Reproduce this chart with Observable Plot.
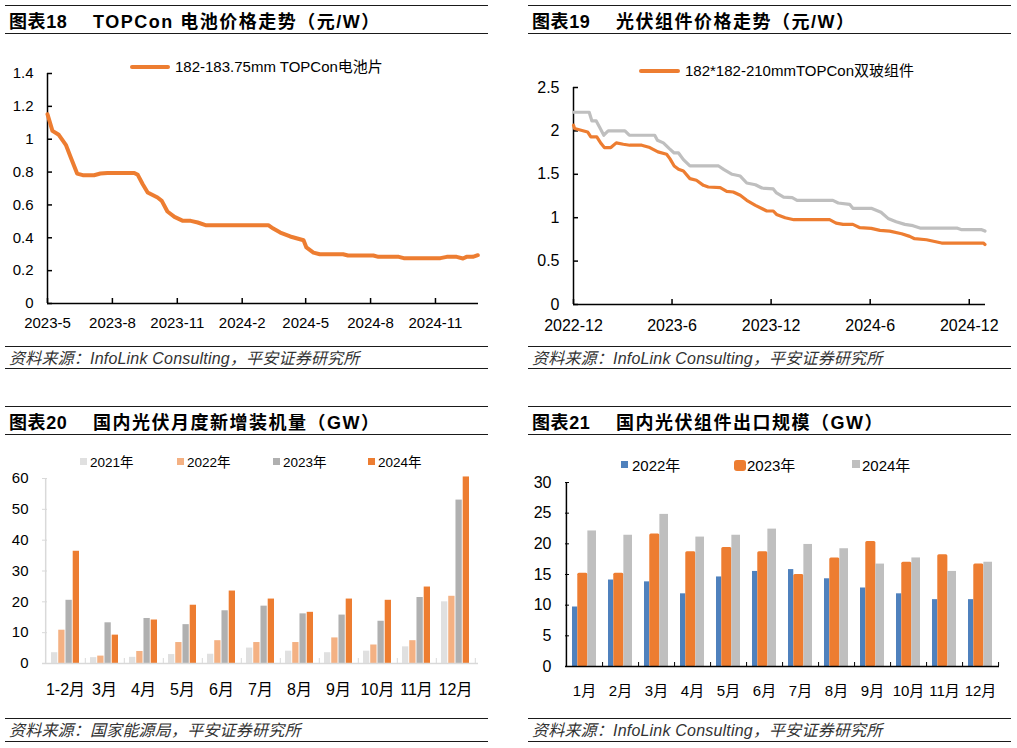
<!DOCTYPE html>
<html><head><meta charset="utf-8">
<script src="https://cdn.jsdelivr.net/npm/d3@7"></script>
<script src="https://cdn.jsdelivr.net/npm/@observablehq/plot@0.6"></script>
<style>
body{margin:0;background:#fff;}
#page{position:relative;width:1017px;height:748px;overflow:hidden;background:#fff;font-family:"Liberation Sans","Noto Sans CJK SC",sans-serif;color:#000;}
.abs{position:absolute;}
.rule{position:absolute;height:0;border-top:1.5px solid #1a1a1a;}
.title{position:absolute;font-weight:bold;font-size:18px;line-height:22px;white-space:nowrap;letter-spacing:0.6px;}
.title.t2{letter-spacing:1.5px;}
.src{position:absolute;font-style:italic;font-size:16px;line-height:20px;color:#333;white-space:nowrap;letter-spacing:0.2px;}
.leg{position:absolute;font-size:15px;line-height:18px;white-space:nowrap;}
</style></head><body><div id="page"></div>
<script>
// ---------- Chart 18: TOPCon cell price ----------
const cellDates = ["2023-05-01","2023-05-08","2023-05-17","2023-05-27","2023-06-03","2023-06-12","2023-06-20","2023-07-06","2023-07-15","2023-07-25","2023-09-01","2023-09-06","2023-09-13","2023-09-20","2023-10-04","2023-10-10","2023-10-18","2023-10-28","2023-11-09","2023-11-20","2023-11-30","2023-12-11","2024-03-09","2024-03-16","2024-03-26","2024-04-09","2024-04-28","2024-05-02","2024-05-12","2024-05-21","2024-06-23","2024-06-30","2024-08-05","2024-08-12","2024-09-10","2024-09-17","2024-11-08","2024-11-17","2024-12-01","2024-12-10","2024-12-15","2024-12-24","2024-12-31"];
const cellPrices = [1.152,1.051,1.027,0.966,0.889,0.791,0.781,0.781,0.791,0.795,0.795,0.783,0.726,0.676,0.645,0.625,0.56,0.527,0.503,0.503,0.493,0.477,0.477,0.456,0.432,0.408,0.385,0.341,0.310,0.300,0.300,0.292,0.292,0.284,0.284,0.276,0.276,0.284,0.284,0.274,0.284,0.284,0.294];
const cellDomain = ["2023-05-01","2025-01-01"];
const cellXTicks = ["2023-05-01","2023-08-01","2023-11-01","2024-02-01","2024-05-01","2024-08-01","2024-11-01"];
const cellYTicks = [0,0.2,0.4,0.6,0.8,1,1.2,1.4];
const cellLegend = "182-183.75mm TOPCon电池片";

// ---------- Chart 19: module price ----------
const modOrangeDates = ["2022-12-01","2022-12-03","2022-12-27","2023-01-02","2023-01-13","2023-01-21","2023-01-27","2023-02-08","2023-02-18","2023-03-03","2023-03-15","2023-04-06","2023-04-21","2023-05-06","2023-05-22","2023-05-28","2023-06-05","2023-06-13","2023-06-22","2023-07-04","2023-07-16","2023-07-29","2023-08-07","2023-08-29","2023-09-10","2023-09-22","2023-10-05","2023-10-17","2023-11-02","2023-11-23","2023-12-05","2023-12-11","2023-12-27","2024-01-12","2024-03-18","2024-03-30","2024-04-12","2024-04-30","2024-05-13","2024-06-03","2024-06-19","2024-07-07","2024-07-29","2024-08-13","2024-08-22","2024-09-13","2024-10-11","2024-12-27","2024-12-30"];
const modOrange = [2.065,2.027,1.988,1.931,1.931,1.854,1.808,1.808,1.862,1.846,1.835,1.835,1.808,1.758,1.731,1.681,1.596,1.558,1.538,1.45,1.431,1.373,1.354,1.346,1.304,1.296,1.258,1.2,1.142,1.077,1.077,1.038,1.0,0.977,0.977,0.938,0.923,0.923,0.885,0.877,0.854,0.846,0.815,0.785,0.758,0.746,0.708,0.708,0.692];
const modGrayDates = ["2022-12-01","2022-12-30","2023-01-04","2023-01-12","2023-01-18","2023-01-26","2023-02-03","2023-03-06","2023-03-14","2023-04-30","2023-05-05","2023-05-16","2023-05-27","2023-06-05","2023-06-13","2023-06-22","2023-07-04","2023-08-26","2023-09-05","2023-09-20","2023-10-05","2023-10-17","2023-11-02","2023-11-14","2023-12-05","2023-12-11","2023-12-24","2024-01-09","2024-01-18","2024-03-24","2024-04-03","2024-04-24","2024-04-30","2024-06-03","2024-06-21","2024-07-04","2024-07-19","2024-08-04","2024-08-19","2024-09-01","2024-11-08","2024-11-17","2024-12-24","2024-12-30"];
const modGray = [2.215,2.215,2.115,2.115,2.046,1.95,2.0,2.0,1.95,1.95,1.892,1.862,1.796,1.746,1.746,1.669,1.596,1.596,1.554,1.5,1.48,1.4,1.38,1.342,1.331,1.285,1.238,1.231,1.2,1.2,1.169,1.154,1.108,1.108,1.062,0.992,0.954,0.923,0.908,0.881,0.881,0.862,0.862,0.846];
const modDomain = ["2022-12-01","2024-12-31"];
const modXTicks = ["2022-12-01","2023-06-01","2023-12-01","2024-06-01","2024-12-01"];
const modYTicks = [0,0.5,1,1.5,2,2.5];
const modLegend = "182*182-210mmTOPCon双玻组件";

// ---------- Chart 20: monthly installations ----------
const instMonths = ["1-2月","3月","4月","5月","6月","7月","8月","9月","10月","11月","12月"];
const instYears = ["2021年","2022年","2023年","2024年"];
const inst2021 = [3.5,1.9,2.0,2.9,3.0,5.0,4.0,3.5,4.0,5.4,20.0];
const inst2022 = [10.8,2.4,3.9,6.8,7.4,6.8,6.8,8.3,6.0,7.4,21.8];
const inst2023 = [20.5,13.2,14.6,12.6,17.1,18.6,16.1,15.7,13.7,21.4,53.0];
const inst2024 = [36.4,9.2,14.1,18.9,23.5,20.9,16.6,20.9,20.5,24.8,60.5];
const instYTicks = [0,10,20,30,40,50,60];

// ---------- Chart 21: module exports ----------
const expMonths = ["1月","2月","3月","4月","5月","6月","7月","8月","9月","10月","11月","12月"];
const expYears = ["2022年","2023年","2024年"];
const exp2022 = [9.7,14.1,13.8,11.85,14.6,15.5,15.8,14.3,12.8,11.85,10.9,10.9];
const exp2023 = [15.2,15.2,21.6,18.7,19.4,18.7,15.0,17.7,20.4,17.0,18.2,16.7];
const exp2024 = [22.1,21.4,24.8,21.1,21.4,22.4,19.9,19.2,16.7,17.7,15.5,17.0];
const expYTicks = [0,5,10,15,20,25,30];

// ---------- helpers ----------
const page = document.getElementById("page");
function el(cls, css, text){const e=document.createElement("div");e.className=cls;Object.assign(e.style,css);if(text!=null)e.textContent=text;page.appendChild(e);return e;}
function hrule(x1,x2,y){el("rule",{left:x1+"px",width:(x2-x1)+"px",top:(y-0.75)+"px"});}
function panel(p){
  hrule(p.x1,p.x2,p.y[0]); hrule(p.x1,p.x2,p.y[2]); hrule(p.x1,p.x2,p.y[3]); hrule(p.x1,p.x2,p.y[5]);
  el("title",{left:(p.x1+4)+"px",top:(p.y[1]-11)+"px"},p.num);
  el("title t2",{left:(p.x1+88)+"px",top:(p.y[1]-11)+"px"},p.title);
  el("src",{left:(p.x1+4)+"px",top:(p.y[4]-10)+"px"},p.src);
}
function place(node,left,top){const w=document.createElement("div");w.className="abs";w.style.left=left+"px";w.style.top=top+"px";w.appendChild(node);page.appendChild(w);}
const FONT='"Liberation Sans","Noto Sans CJK SC",sans-serif';
const fmtMonth = d => `${d.getUTCFullYear()}-${d.getUTCMonth()+1}`;
const fmtNum = d => String(Math.round(d*10)/10);
const blank = () => "";

panel({x1:5,x2:488,y:[6,22,34,347,359,369],num:"图表18",title:"TOPCon 电池价格走势（元/W）",src:"资料来源：InfoLink Consulting，平安证券研究所"});
panel({x1:528,x2:1011,y:[6,22,34,347,359,369],num:"图表19",title:"光伏组件价格走势（元/W）",src:"资料来源：InfoLink Consulting，平安证券研究所"});
panel({x1:5,x2:488,y:[407,423,435,719,731,742],num:"图表20",title:"国内光伏月度新增装机量（GW）",src:"资料来源：国家能源局，平安证券研究所"});
panel({x1:528,x2:1011,y:[407,423,435,719,731,742],num:"图表21",title:"国内光伏组件出口规模（GW）",src:"资料来源：InfoLink Consulting，平安证券研究所"});

// ---------- Chart 18 ----------
{
  const data = cellDates.map((d,i)=>({date:new Date(d),value:cellPrices[i]}));
  const xt = cellXTicks.map(d=>new Date(d));
  const x0 = new Date(cellDomain[0]);
  const svg = Plot.plot({
    width:500,height:300,marginLeft:47,marginRight:22,marginTop:33,marginBottom:37,
    style:{fontFamily:FONT,fontSize:"15px",color:"#000",background:"transparent",overflow:"visible"},
    x:{type:"utc",domain:[x0,new Date(cellDomain[1])],axis:null},
    y:{domain:[0,1.4],axis:null},
    marks:[
      Plot.ruleY([0],{stroke:"#000",strokeWidth:1.5}),
      Plot.ruleX([x0],{stroke:"#000",strokeWidth:1.5}),
      Plot.axisY(cellYTicks,{tickSize:5,dx:5,tickFormat:blank,stroke:"#000",strokeWidth:1.5,label:null}),
      Plot.axisY(cellYTicks,{tickSize:0,tickPadding:14,tickFormat:fmtNum,label:null}),
      Plot.axisX(xt,{tickSize:5,dy:-5,tickFormat:blank,stroke:"#000",strokeWidth:1.5,label:null}),
      Plot.axisX(xt,{tickSize:0,tickPadding:14,tickFormat:fmtMonth,label:null}),
      Plot.line(data,{x:"date",y:"value",stroke:"#ED7D31",strokeWidth:4,strokeLinejoin:"round",strokeLinecap:"round"})
    ]
  });
  place(svg,0,40);
  el("abs",{left:"130px",top:"65px",width:"40px",height:"4px",background:"#ED7D31",borderRadius:"2px"});
  el("leg",{left:"175px",top:"58px"},cellLegend);
}

// ---------- Chart 19 ----------
{
  const orange = modOrangeDates.map((d,i)=>({date:new Date(d),value:modOrange[i]}));
  const gray = modGrayDates.map((d,i)=>({date:new Date(d),value:modGray[i]}));
  const xt = modXTicks.map(d=>new Date(d));
  const x0 = new Date(modDomain[0]);
  const svg = Plot.plot({
    width:507,height:300,marginLeft:63,marginRight:32,marginTop:47,marginBottom:36,
    style:{fontFamily:FONT,fontSize:"16px",color:"#000",background:"transparent",overflow:"visible"},
    x:{type:"utc",domain:[x0,new Date(modDomain[1])],axis:null},
    y:{domain:[0,2.5],axis:null},
    marks:[
      Plot.ruleY([0],{stroke:"#000",strokeWidth:1.5}),
      Plot.ruleX([x0],{stroke:"#000",strokeWidth:1.5}),
      Plot.axisY(modYTicks,{tickSize:5,dx:5,tickFormat:blank,stroke:"#000",strokeWidth:1.5,label:null}),
      Plot.axisY(modYTicks,{tickSize:0,tickPadding:14,tickFormat:fmtNum,label:null}),
      Plot.axisX(xt,{tickSize:5,dy:-5,tickFormat:blank,stroke:"#000",strokeWidth:1.5,label:null}),
      Plot.axisX(xt,{tickSize:0,tickPadding:15,tickFormat:fmtMonth,label:null}),
      Plot.line(gray,{x:"date",y:"value",stroke:"#BFBFBF",strokeWidth:3.2,strokeLinejoin:"round"}),
      Plot.line(orange,{x:"date",y:"value",stroke:"#ED7D31",strokeWidth:3.2,strokeLinejoin:"round"})
    ]
  });
  place(svg,510,40);
  el("abs",{left:"639px",top:"69px",width:"41px",height:"4px",background:"#ED7D31",borderRadius:"2px"});
  el("leg",{left:"685px",top:"62px"},modLegend);
}

// ---------- Chart 20 ----------
{
  const W=500, ML=42, MR=22, pad=0.27;
  const step=(W-ML-MR)/instMonths.length, band=step*(1-pad), slot=band/instYears.length;
  const series=[inst2021,inst2022,inst2023,inst2024];
  const colors=["#E0E0E0","#F4B183","#B0B0B0","#ED7D31"];
  const bars = series.map((vals,k)=>Plot.barY(instMonths,{x:d=>d,y:(d,i)=>vals[i],fill:colors[k],insetLeft:k*slot,insetRight:(series.length-1-k)*slot}));
  const svg = Plot.plot({
    width:W,height:275,marginLeft:ML,marginRight:MR,marginTop:38,marginBottom:52,
    style:{fontFamily:FONT,fontSize:"15px",color:"#000",background:"transparent",overflow:"visible"},
    x:{type:"band",domain:instMonths,paddingInner:pad,paddingOuter:pad/2,axis:null},
    y:{domain:[0,60],axis:null},
    marks:[
      ...bars,
      Plot.ruleY([0],{stroke:"#D9D9D9",strokeWidth:1.5}),
      Plot.ruleX([instMonths[0]],{dx:-step/2,stroke:"#D9D9D9",strokeWidth:1.5}),
      Plot.axisY(instYTicks,{tickSize:5,dx:5,tickFormat:blank,stroke:"#D9D9D9",label:null}),
      Plot.axisY(instYTicks,{tickSize:0,tickPadding:14,tickFormat:d=>String(d),label:null}),
      Plot.axisX(instMonths,{tickSize:5,dy:-5,dx:step/2,tickFormat:blank,stroke:"#D9D9D9",label:null}),
      Plot.axisX(instMonths,{tickSize:0,tickPadding:20,fontSize:16,label:null})
    ]
  });
  place(svg,0,440);
  const legX=[80,177,273,368];
  instYears.forEach((yr,k)=>{
    el("abs",{left:legX[k]+"px",top:"458px",width:"7px",height:"7px",background:colors[k]});
    el("leg",{left:(legX[k]+10)+"px",top:"454px",fontSize:"13.5px"},yr);
  });
}

// ---------- Chart 21 ----------
{
  const W=507, ML=55, MR=18, pad=0.336;
  const step=(W-ML-MR)/expMonths.length, band=step*(1-pad);
  const series=[exp2022,exp2023,exp2024];
  const colors=["#4F81BD","#ED7D31","#BFBFBF"];
  const edges=[0,0.22,0.64,1];
  const bars = series.map((vals,k)=>Plot.barY(expMonths,{x:d=>d,y:(d,i)=>vals[i],fill:colors[k],insetLeft:edges[k]*band,insetRight:(1-edges[k+1])*band,rx:k===1?1.5:0}));
  const svg = Plot.plot({
    width:W,height:275,marginLeft:ML,marginRight:MR,marginTop:42,marginBottom:49,
    style:{fontFamily:FONT,fontSize:"16px",color:"#000",background:"transparent",overflow:"visible"},
    x:{type:"band",domain:expMonths,paddingInner:pad,paddingOuter:pad/2,axis:null},
    y:{domain:[0,30],axis:null},
    marks:[
      ...bars,
      Plot.ruleY([0],{stroke:"#000",strokeWidth:1.5}),
      Plot.ruleX([expMonths[0]],{dx:-step/2,stroke:"#000",strokeWidth:1.5}),
      Plot.axisY(expYTicks,{tickSize:4,dx:4,tickFormat:blank,stroke:"#000",label:null}),
      Plot.axisY(expYTicks,{tickSize:0,tickPadding:14,tickFormat:d=>String(d),label:null}),
      Plot.axisX(expMonths,{tickSize:4,dy:-4,dx:step/2,tickFormat:blank,stroke:"#000",label:null}),
      Plot.axisX(expMonths,{tickSize:0,tickPadding:19,fontSize:15,label:null})
    ]
  });
  place(svg,510,440);
  el("abs",{left:"621px",top:"461px",width:"7px",height:"7px",background:colors[0]});
  el("leg",{left:"632px",top:"457px"},expYears[0]);
  el("abs",{left:"734px",top:"460px",width:"12px",height:"11px",background:colors[1],borderRadius:"3px"});
  el("leg",{left:"747px",top:"457px"},expYears[1]);
  el("abs",{left:"852px",top:"460px",width:"7.5px",height:"7.5px",background:colors[2]});
  el("leg",{left:"862px",top:"457px"},expYears[2]);
}
</script></body></html>
